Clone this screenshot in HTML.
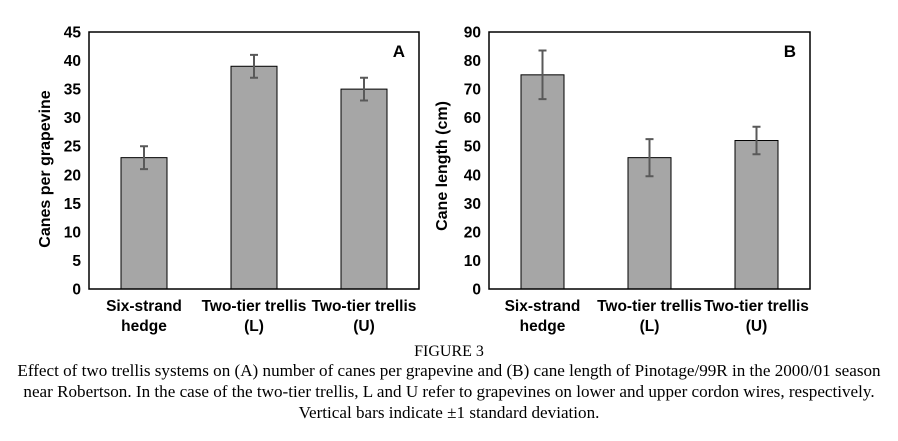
<!DOCTYPE html>
<html><head><meta charset="utf-8"><style>
body{margin:0;background:#fff;width:898px;height:441px;overflow:hidden}
svg text{font-family:"Liberation Sans",Arial,sans-serif}
.cap{position:absolute;left:0;width:898px;text-align:center;font-family:"Liberation Serif",serif;font-size:17.1px;color:#000;line-height:21px;white-space:nowrap}
</style></head><body>
<svg id="chart" width="898" height="441" style="position:absolute;left:0;top:0"></svg>
<div class="cap" style="top:341px;font-size:16px">FIGURE 3</div>
<div class="cap" style="top:360px">Effect of two trellis systems on (A) number of canes per grapevine and (B) cane length of Pinotage/99R in the 2000/01 season<br>near Robertson. In the case of the two-tier trellis, L and U refer to grapevines on lower and upper cordon wires, respectively.<br>Vertical bars indicate ±1 standard deviation.</div>
<script>
const categories=[["Six-strand","hedge"],["Two-tier trellis","(L)"],["Two-tier trellis","(U)"]];
const canesValues=[23,39,35];
const canesErr=[2,2,2];
const canesTicks=[0,5,10,15,20,25,30,35,40,45];
const lengthValues=[75,46,52];
const lengthErr=[8.5,6.5,4.8];
const lengthTicks=[0,10,20,30,40,50,60,70,80,90];
const NS="http://www.w3.org/2000/svg";
const svg=document.getElementById('chart');
function mk(t,a,p){const e=document.createElementNS(NS,t);for(const k in a)e.setAttribute(k,a[k]);(p||svg).appendChild(e);return e;}
function panel(cfg){
  const g=mk('g',{});
  
  
  const {x0,x1,y0,y1,max,bw}=cfg;
  const ys=v=>y1-(v/max)*(y1-y0);
  const step=(x1-x0)/categories.length;
  const xc=i=>x0+step*(i+0.5);
  cfg.ticks.forEach(t=>{
    const tl=mk('text',{x:x0-8,y:ys(t)+5.5,'text-anchor':'end','font-size':'15.5','font-weight':'bold'},g);
    tl.textContent=t;
    
    
  });
  cfg.values.forEach((v,i)=>{
    const b=mk('rect',{x:xc(i)-bw/2,y:ys(v),width:bw,height:y1-ys(v),fill:'#a6a6a6',stroke:'#000','stroke-width':1},g);
    
    
    const e=cfg.err[i],hi=ys(v+e),lo=ys(v-e),c=xc(i);
    const eb=mk('path',{d:`M${c},${hi}V${lo}M${c-4},${hi}H${c+4}M${c-4},${lo}H${c+4}`,stroke:'#595959','stroke-width':2,fill:'none'},g);
    
    
    categories[i].forEach((l,j)=>{
      const t=mk('text',{x:c,y:311+j*20,'text-anchor':'middle','font-size':'15.5','font-weight':'bold'},g);
      t.textContent=l;
      
      
    });
  });
  const fr=mk('rect',{x:x0,y:y0,width:x1-x0,height:y1-y0,fill:'none',stroke:'#000','stroke-width':1.5},g);
  
  
  const yt=mk('text',{transform:`translate(${cfg.tx},${cfg.ty}) rotate(-90)`,'text-anchor':'middle','font-size':'16','font-weight':'bold'},g);
  yt.textContent=cfg.title;
  
  
  const pl=mk('text',{x:x1-14,y:y0+25,'text-anchor':'end','font-size':'17','font-weight':'bold'},g);
  pl.textContent=cfg.label;
  
  
}
panel({name:'chart-a',x0:89,x1:419,y0:32,y1:289,max:45,bw:46,ticks:canesTicks,values:canesValues,err:canesErr,title:'Canes per grapevine',label:'A',tx:50,ty:169});
panel({name:'chart-b',x0:489,x1:810,y0:32,y1:289,max:90,bw:43,ticks:lengthTicks,values:lengthValues,err:lengthErr,title:'Cane length (cm)',label:'B',tx:447,ty:166});
</script>
</body></html>
